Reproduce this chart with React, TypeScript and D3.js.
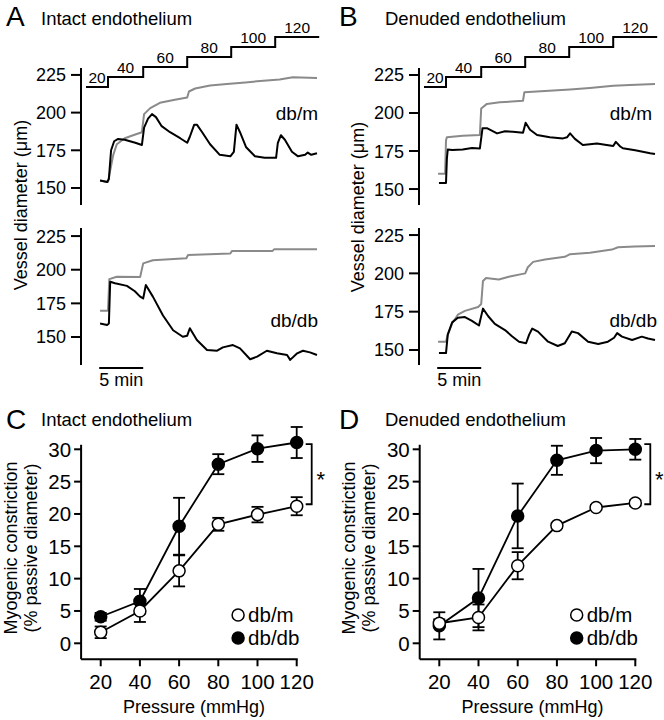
import React from "react";
import * as d3 from "d3";

type Pt = [number, number];

// ---------- Data ----------
const stepTimes = [0, 2.5, 6.5, 11.5, 16.5, 21.5, 26.5];
const stepPressures = [20, 40, 60, 80, 100, 120];
const traceTicks = [150, 175, 200, 225];

const aTopBlack: Pt[] = [[1.6,155],[2.4,154],[2.6,156],[2.85,175],[3.2,181],[3.65,182.5],[4.4,182],[5.6,180],[6.35,178.5],[6.6,190],[7.05,196],[7.5,199],[7.95,197],[8.6,191],[9.55,187],[10.7,183],[11.5,180],[11.8,184],[12.3,192],[12.6,192],[13.2,187],[14.1,179],[15.2,172],[16.4,171],[16.8,174],[17.1,192],[17.5,187],[18.2,177],[19.2,171],[20.3,170],[21.6,170],[21.8,180],[22.15,185],[22.6,182],[23.4,174],[24.1,171],[24.9,172],[25.2,173.5],[25.6,172],[26.25,173]];
const aTopGray: Pt[] = [[1.6,155],[2.5,154],[2.7,160],[3.1,172],[3.5,179],[4.4,183],[5.6,185.5],[6.35,187],[6.6,199],[7.3,203],[8.4,206.5],[10.1,208.5],[11.5,210],[11.7,214],[12.4,216],[14.1,218],[16.0,219],[18.1,220],[19.8,221],[22.0,222],[23.5,223.5],[26.25,223]];
const aBotGray: Pt[] = [[1.6,169.5],[2.5,169.5],[2.65,193],[3.5,194.8],[6.15,194.5],[6.5,204.7],[7.6,207],[11.4,208.5],[11.6,211],[16.4,212],[16.6,214],[21.2,214],[21.4,215.3],[26.25,215.3]];
const aBotBlack: Pt[] = [[1.6,160],[2.4,159],[2.6,160],[2.75,191],[3.3,190],[4.65,188],[5.55,184],[6.15,180],[6.5,178.7],[6.8,188.6],[7.6,180],[8.75,166],[9.9,155],[11.0,150.2],[11.5,151],[11.8,156.5],[12.6,147.8],[13.75,140.4],[14.9,139.8],[15.55,142.3],[16.7,144],[17.5,141.6],[18.65,133.5],[19.45,135.4],[20.55,139.8],[21.7,137.9],[22.85,136.6],[23.2,133],[24.0,137.9],[24.65,139.8],[25.45,138.6],[26.25,136.6]];

const bTopBlack: Pt[] = [[1.7,154],[2.5,154],[2.6,170],[2.7,176],[3.2,175.7],[4.4,176],[5.45,177],[6.35,176.7],[6.65,190],[7.15,190],[8.3,186.6],[9.2,188],[10.1,187.7],[11.25,187],[11.55,193.6],[12.05,189],[12.85,185.5],[14.3,184],[15.8,183.3],[16.25,184],[16.6,186.6],[17.15,183],[18.05,179],[19.65,180],[21.5,178.3],[21.8,181],[22.3,178],[22.6,176.8],[24,175.5],[25.7,173.5],[26.25,173]];
const bTopGray: Pt[] = [[1.6,160],[2.4,160],[2.5,182],[2.6,184],[4.4,185],[6.35,185.5],[6.5,203],[7.15,206],[8.6,207],[11.25,208],[11.4,213.6],[13.75,214.5],[16.6,215.5],[18.85,216.5],[21.5,218],[23.4,218.5],[26.25,219]];
const bBotBlack: Pt[] = [[1.7,148],[2.5,148],[2.7,160],[3.2,168],[3.85,171],[4.65,171.5],[5.45,169],[6.25,166],[6.7,177],[7.3,172],[8.05,167],[9.2,163],[10.0,159],[10.8,155.4],[11.6,154.4],[11.95,160],[12.3,164],[12.95,162],[14.1,155.4],[15.2,152.6],[16.0,154.4],[16.8,162],[17.5,161],[18.65,155.4],[19.8,153.9],[20.9,155.4],[21.6,158],[21.95,161],[22.5,158.7],[23.65,156.5],[24.75,158.7],[25.45,157.5],[26.25,156.5]];
const bBotGray: Pt[] = [[1.6,155.4],[2.5,155.4],[2.7,160],[3.2,167.4],[3.85,173],[4.65,175.5],[6.15,178],[6.5,180],[6.7,195],[7.05,197],[7.75,196.5],[8.5,196],[9.75,198],[11.5,200],[11.8,204],[12.4,207.5],[13.75,209],[16.0,210.8],[16.6,212.5],[18.85,213.5],[21.35,215.5],[22.05,217],[23.95,217.5],[26.25,217.8]];

const pressures = [20, 40, 60, 80, 100, 120];
const statTicksY = [0, 5, 10, 15, 20, 25, 30];
const cDbm = [1.7, 5.0, 11.2, 18.4, 19.9, 21.2];
const cDbmErr = [0.9, 1.7, 2.4, 1.0, 1.2, 1.4];
const cDbdb = [4.1, 6.5, 18.1, 27.7, 30.1, 31.05];
const cDbdbErr = [0.6, 1.9, 4.4, 1.55, 2.05, 2.4];
const dDbm = [3.1, 4.0, 12.0, 18.2, 21.0, 21.7];
const dDbmErr = [0.6, 2.0, 2.1, 0.4, 0.4, 0.4];
const dDbdb = [2.7, 7.0, 19.7, 28.3, 29.8, 30.0];
const dDbdbErr = [2.1, 4.5, 5.0, 2.25, 1.95, 1.6];

const FONT = "Liberation Sans, Arial, Helvetica, sans-serif";
const GRAY = "#8a8a8a";

// ---------- Components ----------
function Trace({ data, x, y, color }: { data: Pt[]; x: any; y: any; color: string }) {
  const line = d3.line<Pt>().x(d => x(d[0])).y(d => y(d[1]));
  return <path d={line(data) || ""} fill="none" stroke={color} strokeWidth={2} strokeLinejoin="round" />;
}

function TraceAxis({ y, ax, domain }: { y: any; ax: number; domain: [number, number] }) {
  return (
    <g>
      <line x1={ax} x2={ax} y1={y(domain[0])} y2={y(domain[1])} stroke="#000" strokeWidth={2} />
      {traceTicks.map(t => (
        <g key={t}>
          <line x1={ax - 10} x2={ax} y1={y(t)} y2={y(t)} stroke="#000" strokeWidth={2} />
          <text x={ax - 15} y={y(t)} dy="0.36em" textAnchor="end" fontSize={18}>{t}</text>
        </g>
      ))}
    </g>
  );
}

function TraceColumn({ x0, ax, topY, botY, topDom, botDom, top, bot, topLabelX, botLabelX }: any) {
  const x = d3.scaleLinear().domain([0, 26.5]).range([x0, x0 + 26.5 * 8.8]);
  const yP = d3.scaleLinear().domain([20, 120]).range([87, 37]);
  const stepPts: Pt[] = stepPressures.map((p, i) => [stepTimes[i], p] as Pt);
  stepPts.push([stepTimes[stepTimes.length - 1], stepPressures[stepPressures.length - 1]]);
  const stepLine = d3.line<Pt>().x(d => x(d[0])).y(d => yP(d[1])).curve(d3.curveStepAfter);
  return (
    <g>
      <path d={stepLine(stepPts) || ""} fill="none" stroke="#000" strokeWidth={2} />
      {stepPressures.map((p, i) => (
        <text key={p} x={(x(stepTimes[i]) + x(stepTimes[i + 1])) / 2} y={yP(p) - 4} textAnchor="middle" fontSize={15.5}>{p}</text>
      ))}
      <TraceAxis y={topY} ax={ax} domain={topDom} />
      <TraceAxis y={botY} ax={ax} domain={botDom} />
      <Trace data={top[1]} x={x} y={topY} color={GRAY} />
      <Trace data={top[0]} x={x} y={topY} color="#000" />
      <Trace data={bot[1]} x={x} y={botY} color={GRAY} />
      <Trace data={bot[0]} x={x} y={botY} color="#000" />
      <text x={topLabelX} y={120} textAnchor="end" fontSize={19}>db/m</text>
      <text x={botLabelX} y={327} textAnchor="end" fontSize={19}>db/db</text>
      <line x1={x(1.5)} x2={x(6.5)} y1={368} y2={368} stroke="#000" strokeWidth={2} />
      <text x={x(4)} y={386} textAnchor="middle" fontSize={18}>5 min</text>
    </g>
  );
}

function StatPanel({ ox, dbm, dbmErr, dbdb, dbdbErr }: any) {
  const x = d3.scaleLinear().domain([10, 120]).range([ox, ox + 110 * 1.96]);
  const y = d3.scaleLinear().domain([0, 30]).range([643.3, 449.3]);
  const yMin = -2.47, yMax = 30.7;
  const line = d3.line<number>().x((_, i) => x(pressures[i])).y(d => y(d));
  const errBars = (m: number[], e: number[], key: string) =>
    m.map((v, i) => (
      <g key={key + i} stroke="#000" strokeWidth={1.8}>
        <line x1={x(pressures[i])} x2={x(pressures[i])} y1={y(v - e[i])} y2={y(v + e[i])} />
        <line x1={x(pressures[i]) - 6} x2={x(pressures[i]) + 6} y1={y(v - e[i])} y2={y(v - e[i])} />
        <line x1={x(pressures[i]) - 6} x2={x(pressures[i]) + 6} y1={y(v + e[i])} y2={y(v + e[i])} />
      </g>
    ));
  const bx = x(120) + 15;
  return (
    <g>
      <line x1={x(10)} x2={x(10)} y1={y(yMin)} y2={y(yMax)} stroke="#000" strokeWidth={2} />
      <line x1={x(10)} x2={x(120) + 1} y1={y(yMin)} y2={y(yMin)} stroke="#000" strokeWidth={2} />
      {statTicksY.map(t => (
        <g key={t}>
          <line x1={x(10) - 7} x2={x(10)} y1={y(t)} y2={y(t)} stroke="#000" strokeWidth={2} />
          <text x={x(10) - 10} y={y(t)} dy="0.36em" textAnchor="end" fontSize={20.5}>{t}</text>
        </g>
      ))}
      {pressures.map(p => (
        <g key={p}>
          <line x1={x(p)} x2={x(p)} y1={y(yMin)} y2={y(yMin) + 7} stroke="#000" strokeWidth={2} />
          <text x={x(p)} y={689} textAnchor="middle" fontSize={20.5}>{p}</text>
        </g>
      ))}
      <text x={(x(10) + x(120)) / 2 + 5} y={713} textAnchor="middle" fontSize={18}>Pressure (mmHg)</text>
      <path d={line(dbdb) || ""} fill="none" stroke="#000" strokeWidth={1.8} />
      <path d={line(dbm) || ""} fill="none" stroke="#000" strokeWidth={1.8} />
      {errBars(dbdb, dbdbErr, "b")}
      {errBars(dbm, dbmErr, "m")}
      {dbdb.map((v: number, i: number) => (
        <circle key={"fb" + i} cx={x(pressures[i])} cy={y(v)} r={6} fill="#000" stroke="#000" strokeWidth={1.5} />
      ))}
      {dbm.map((v: number, i: number) => (
        <circle key={"fm" + i} cx={x(pressures[i])} cy={y(v)} r={6} fill="#fff" stroke="#000" strokeWidth={1.5} />
      ))}
      <path d={`M${bx - 6},${y(30.8)}H${bx}V${y(21.5)}H${bx - 6}`} fill="none" stroke="#000" strokeWidth={1.8} />
      <text x={bx + 9} y={487} textAnchor="middle" fontSize={22}>*</text>
      <circle cx={ox + 157} cy={615} r={6} fill="#fff" stroke="#000" strokeWidth={1.5} />
      <text x={ox + 167} y={622} fontSize={20.5}>db/m</text>
      <circle cx={ox + 157} cy={638} r={6} fill="#000" stroke="#000" strokeWidth={1.5} />
      <text x={ox + 167} y={645} fontSize={20.5}>db/db</text>
    </g>
  );
}

export default function App() {
  const aTopY = d3.scaleLinear().domain([138.7, 229.6]).range([205, 68]);
  const aBotY = d3.scaleLinear().domain([129.2, 231]).range([365, 228]);
  const bTopY = d3.scaleLinear().domain([139.5, 229.6]).range([205, 68]);
  const bBotY = d3.scaleLinear().domain([140.2, 229.6]).range([365, 228]);
  return (
    <svg width={664} height={720} style={{ position: "absolute", left: 0, top: 0, background: "#fff" }} fontFamily={FONT}>
      <rect width={664} height={720} fill="#fff" />
      {/* Titles */}
      <text x={6} y={25.5} fontSize={28}>A</text>
      <text x={41} y={25} fontSize={18.5}>Intact endothelium</text>
      <text x={339} y={25.5} fontSize={28}>B</text>
      <text x={385} y={25} fontSize={18.5}>Denuded endothelium</text>
      <text x={6} y={428.5} fontSize={28}>C</text>
      <text x={41} y={426} fontSize={18.5}>Intact endothelium</text>
      <text x={339} y={428.5} fontSize={28}>D</text>
      <text x={385} y={426} fontSize={18.5}>Denuded endothelium</text>

      {/* Y labels for traces */}
      <text transform="translate(27,205) rotate(-90)" textAnchor="middle" fontSize={18}>Vessel diameter (μm)</text>
      <text transform="translate(364,207) rotate(-90)" textAnchor="middle" fontSize={18}>Vessel diameter (μm)</text>

      <TraceColumn x0={86} ax={81} topY={aTopY} botY={aBotY} topDom={[138.7, 229.6]} botDom={[129.2, 231]}
        top={[aTopBlack, aTopGray]} bot={[aBotBlack, aBotGray]} topLabelX={318} botLabelX={318} />
      <TraceColumn x0={424} ax={419} topY={bTopY} botY={bBotY} topDom={[139.5, 229.6]} botDom={[140.2, 229.6]}
        top={[bTopBlack, bTopGray]} bot={[bBotBlack, bBotGray]} topLabelX={652} botLabelX={657} />

      {/* Y labels for stats */}
      <text transform="translate(17,548) rotate(-90)" textAnchor="middle" fontSize={18}>Myogenic constriction</text>
      <text transform="translate(37,548) rotate(-90)" textAnchor="middle" fontSize={18}>(% passive diameter)</text>
      <text transform="translate(355,548) rotate(-90)" textAnchor="middle" fontSize={18}>Myogenic constriction</text>
      <text transform="translate(375,548) rotate(-90)" textAnchor="middle" fontSize={18}>(% passive diameter)</text>

      <StatPanel ox={81.1} dbm={cDbm} dbmErr={cDbmErr} dbdb={cDbdb} dbdbErr={cDbdbErr} />
      <StatPanel ox={419.7} dbm={dDbm} dbmErr={dDbmErr} dbdb={dDbdb} dbdbErr={dDbdbErr} />
    </svg>
  );
}
